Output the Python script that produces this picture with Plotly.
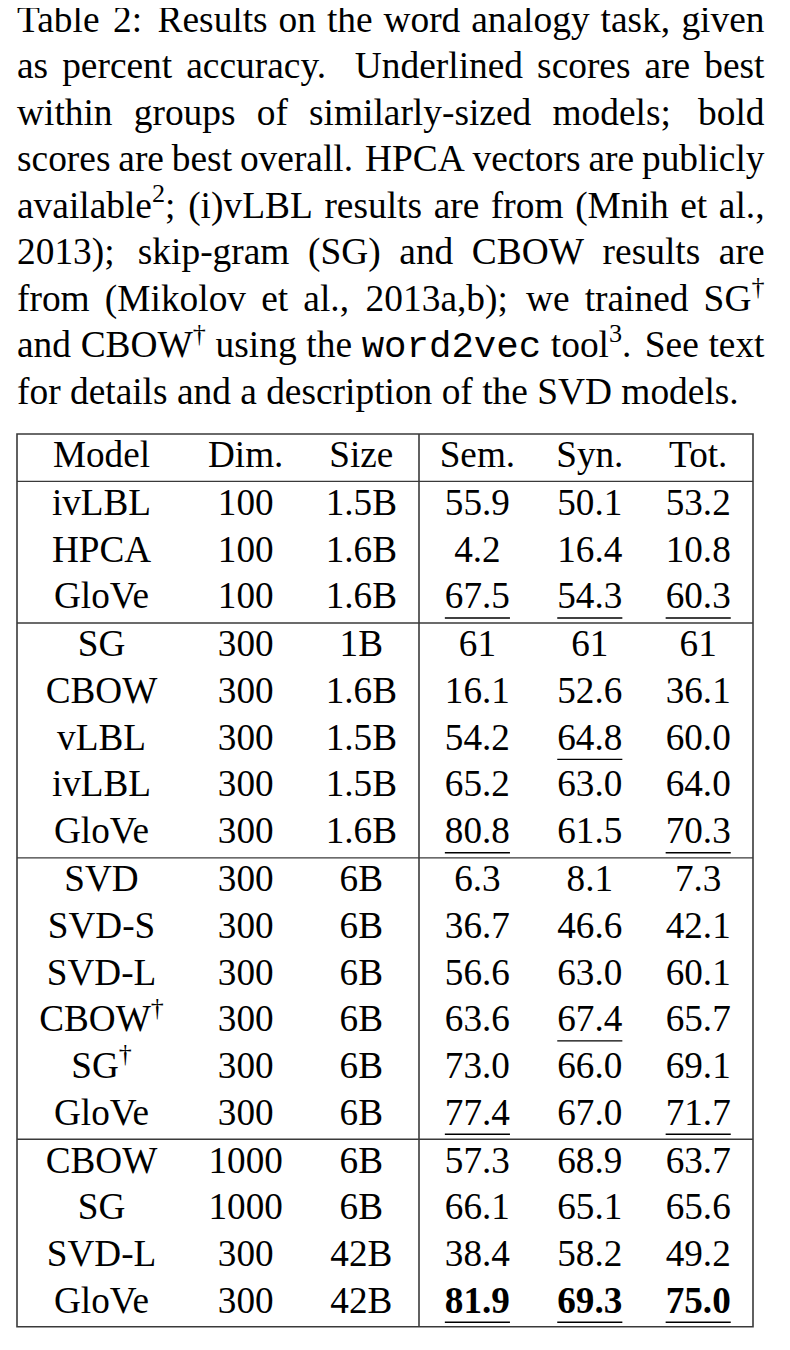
import re
import plotly.graph_objects as go

# ---------------- data ----------------
header = ["Model", "Dim.", "Size", "Sem.", "Syn.", "Tot."]
models = ["ivLBL", "HPCA", "GloVe",
          "SG", "CBOW", "vLBL", "ivLBL", "GloVe",
          "SVD", "SVD-S", "SVD-L", "CBOW<sup>†</sup>", "SG<sup>†</sup>", "GloVe",
          "CBOW", "SG", "SVD-L", "GloVe"]
dims = ["100", "100", "100",
        "300", "300", "300", "300", "300",
        "300", "300", "300", "300", "300", "300",
        "1000", "1000", "300", "300"]
sizes = ["1.5B", "1.6B", "1.6B",
         "1B", "1.6B", "1.5B", "1.5B", "1.6B",
         "6B", "6B", "6B", "6B", "6B", "6B",
         "6B", "6B", "42B", "42B"]
sem = ["55.9", "4.2", "67.5",
       "61", "16.1", "54.2", "65.2", "80.8",
       "6.3", "36.7", "56.6", "63.6", "73.0", "77.4",
       "57.3", "66.1", "38.4", "81.9"]
syn = ["50.1", "16.4", "54.3",
       "61", "52.6", "64.8", "63.0", "61.5",
       "8.1", "46.6", "63.0", "67.4", "66.0", "67.0",
       "68.9", "65.1", "58.2", "69.3"]
tot = ["53.2", "10.8", "60.3",
       "61", "36.1", "60.0", "64.0", "70.3",
       "7.3", "42.1", "60.1", "65.7", "69.1", "71.7",
       "63.7", "65.6", "49.2", "75.0"]
groups = [0, 0, 0,
          1, 1, 1, 1, 1,
          2, 2, 2, 2, 2, 2,
          3, 3, 3, 3]

caption_lines = [
    ["Table", "2:", "Results", "on", "the", "word", "analogy", "task,", "given"],
    ["as", "percent", "accuracy.", "Underlined", "scores", "are", "best"],
    ["within", "groups", "of", "similarly-sized", "models;", "bold"],
    ["scores", "are", "best", "overall.", "HPCA", "vectors", "are", "publicly"],
    ["available<sup>2</sup>;", "(i)vLBL", "results", "are", "from", "(Mnih", "et", "al.,"],
    ["2013);", "skip-gram", "(SG)", "and", "CBOW", "results", "are"],
    ["from", "(Mikolov", "et", "al.,", "2013a,b);", "we", "trained", "SG<sup>†</sup>"],
    ["and", "CBOW<sup>†</sup>", "using", "the", "word2vec", "tool<sup>3</sup>.", "See", "text"],
]
caption_last_line = "for details and a description of the SVD models."
mono_words = ["word2vec"]

# ---------------- layout constants ----------------
W, H = 790, 1350
PAGE_OFF = 8  # default page margin around the plot div
FS_CAP = 37.4
FS = 37.2
SERIF = "Liberation Serif"
MONO = "Liberation Mono"
CAP_LEFT, CAP_RIGHT = 17.0, 764.5
CAP_BASE0, CAP_PITCH = 32.0, 46.5
col_x = [101.5, 245.7, 361.3, 477.4, 589.8, 698.2]
TAB_LEFT, TAB_RIGHT, TAB_VLINE = 17.0, 753.0, 419.0
HEAD_BASE = 466.7
ROW_BASE0, ROW_PITCH, GROUP_GAP = 515.0, 46.67, 1.44
RULE_BELOW = 14.7
TOP_ABOVE = 32.7
BOTTOM_BELOW = 14.0
UL_BELOW = 9.6
LINE_COLOR = "#3a3a3a"

TIMES = {
    ' ': 250, '!': 333, '"': 408, '(': 333, ')': 333, ',': 250, '-': 333, '.': 250,
    ':': 278, ';': 278, '†': 500,
    'A': 722, 'B': 667, 'C': 667, 'D': 722, 'E': 611, 'F': 556, 'G': 722, 'H': 722,
    'I': 333, 'J': 389, 'K': 722, 'L': 611, 'M': 889, 'N': 722, 'O': 722, 'P': 556,
    'Q': 722, 'R': 667, 'S': 556, 'T': 611, 'U': 722, 'V': 722, 'W': 944, 'X': 722,
    'Y': 722, 'Z': 611,
    'a': 444, 'b': 500, 'c': 444, 'd': 500, 'e': 444, 'f': 333, 'g': 500, 'h': 500,
    'i': 278, 'j': 278, 'k': 500, 'l': 278, 'm': 778, 'n': 500, 'o': 500, 'p': 500,
    'q': 500, 'r': 333, 's': 389, 't': 278, 'u': 500, 'v': 500, 'w': 722, 'x': 500,
    'y': 500, 'z': 444,
}


def plain(s):
    return re.sub(r"<[^>]+>", "", s)


def text_width(s, fs, mono=False):
    total, scale = 0.0, 1.0
    for tok in re.split(r"(<[^>]+>)", s):
        if tok == "<sup>":
            scale = 0.7
            continue
        if tok == "</sup>":
            scale = 1.0
            continue
        if tok.startswith("<"):
            continue
        for ch in tok:
            w = 600 if mono else TIMES.get(ch, 500)
            total += w * scale
    return total * fs / 1000.0


def space_factor(word):
    p = plain(word)
    chars = [c for c in p if c not in ")]'\"†"]
    if not chars:
        return 1000
    c = chars[-1]
    prev = chars[-2] if len(chars) > 1 else ""
    if c in ".?!":
        return 999 if prev.isupper() else 3000
    if c == ":":
        return 2000
    if c == ";":
        return 1500
    if c == ",":
        return 1250
    if c.isupper():
        return 999
    return 1000


SP, ST, SH, EX = 0.25 * FS_CAP, 0.12 * FS_CAP, 0.08 * FS_CAP, 0.08 * FS_CAP
CAP_DY = 0.25 * FS_CAP   # baseline offset of plotly 'middle' text
TAB_DY = 0.25 * FS

cap_serif = dict(x=[], y=[], text=[], pos=[])
cap_mono = dict(x=[], y=[], text=[], pos=[])

for k, words in enumerate(caption_lines):
    base = CAP_BASE0 + k * CAP_PITCH
    widths = [text_width(w, FS_CAP, mono=(w in mono_words)) for w in words]
    nat, stre, shr = [], [], []
    for w in words[:-1]:
        f = space_factor(w)
        nat.append(SP + (EX if f >= 2000 else 0.0))
        stre.append(ST * f / 1000.0)
        shr.append(SH * 1000.0 / f)
    extra = (CAP_RIGHT - CAP_LEFT) - (sum(widths) + sum(nat))
    if extra >= 0:
        r = extra / sum(stre)
        gaps = [a + r * s for a, s in zip(nat, stre)]
    else:
        r = extra / sum(shr)
        gaps = [a + r * s for a, s in zip(nat, shr)]
    x = CAP_LEFT
    for i, w in enumerate(words):
        tgt = cap_mono if w in mono_words else cap_serif
        if i == len(words) - 1:
            tgt["x"].append(CAP_RIGHT)
            tgt["pos"].append("middle left")
        else:
            tgt["x"].append(x)
            tgt["pos"].append("middle right")
            x += widths[i] + gaps[i]
        tgt["y"].append(base - CAP_DY)
        tgt["text"].append(w)

last_base = CAP_BASE0 + len(caption_lines) * CAP_PITCH
cap_serif["x"].append(CAP_LEFT)
cap_serif["y"].append(last_base - CAP_DY)
cap_serif["text"].append(caption_last_line)
cap_serif["pos"].append("middle right")

fig = go.Figure()

fig.add_trace(go.Scatter(
    x=cap_serif["x"], y=cap_serif["y"], text=cap_serif["text"],
    textposition=cap_serif["pos"], mode="text", hoverinfo="skip",
    textfont=dict(family=SERIF, size=FS_CAP, color="black"), cliponaxis=False))
fig.add_trace(go.Scatter(
    x=cap_mono["x"], y=cap_mono["y"], text=cap_mono["text"],
    textposition=cap_mono["pos"], mode="text", hoverinfo="skip",
    textfont=dict(family=MONO, size=FS_CAP, color="black"), cliponaxis=False))

# ---------------- table ----------------
n = len(models)
row_base = [ROW_BASE0 + i * ROW_PITCH + groups[i] * GROUP_GAP for i in range(n)]
columns = [models, dims, sizes, sem, syn, tot]
score_cols = {3: sem, 4: syn, 5: tot}

# best within group (underline) / best overall (bold)
underline = {j: set() for j in score_cols}
bold = {j: set() for j in score_cols}
for j, vals in score_cols.items():
    nums = [float(v) for v in vals]
    for g in sorted(set(groups)):
        idx = [i for i in range(n) if groups[i] == g]
        m = max(nums[i] for i in idx)
        underline[j].update(i for i in idx if nums[i] == m)
    mall = max(nums)
    bold[j].update(i for i in range(n) if nums[i] == mall)

fig.add_trace(go.Scatter(
    x=col_x, y=[HEAD_BASE - TAB_DY] * len(header), text=header,
    textposition="middle center", mode="text", hoverinfo="skip",
    textfont=dict(family=SERIF, size=FS, color="black"), cliponaxis=False))

shapes = []
for j, vals in enumerate(columns):
    texts = []
    for i, v in enumerate(vals):
        t = v
        if j in bold and i in bold[j]:
            t = "<b>" + v + "</b>"
        texts.append(t)
        if j in underline and i in underline[j]:
            w = text_width(v, FS)
            shapes.append(dict(type="line", xref="x", yref="y",
                               x0=col_x[j] - w / 2, x1=col_x[j] + w / 2,
                               y0=row_base[i] + UL_BELOW, y1=row_base[i] + UL_BELOW,
                               line=dict(color="black", width=1.4)))
    fig.add_trace(go.Scatter(
        x=[col_x[j]] * n, y=[b - TAB_DY for b in row_base], text=texts,
        textposition="middle center", mode="text", hoverinfo="skip",
        textfont=dict(family=SERIF, size=FS, color="black"), cliponaxis=False))

top = HEAD_BASE - TOP_ABOVE
bottom = row_base[-1] + BOTTOM_BELOW
rules = [HEAD_BASE + RULE_BELOW]
for i in range(n - 1):
    if groups[i + 1] != groups[i]:
        rules.append(row_base[i] + RULE_BELOW)

shapes.append(dict(type="rect", xref="x", yref="y", x0=TAB_LEFT, x1=TAB_RIGHT,
                   y0=top, y1=bottom, line=dict(color=LINE_COLOR, width=1.6)))
shapes.append(dict(type="line", xref="x", yref="y", x0=TAB_VLINE, x1=TAB_VLINE,
                   y0=top, y1=bottom, line=dict(color=LINE_COLOR, width=1.6)))
for yr in rules:
    shapes.append(dict(type="line", xref="x", yref="y", x0=TAB_LEFT, x1=TAB_RIGHT,
                       y0=yr, y1=yr, line=dict(color=LINE_COLOR, width=1.4)))

# axes in screen pixels (offset by the page margin so coordinates match the picture)
fig.update_layout(
    width=W, height=H, margin=dict(l=0, r=0, t=0, b=0),
    paper_bgcolor="white", plot_bgcolor="white", showlegend=False,
    xaxis=dict(range=[PAGE_OFF, PAGE_OFF + W], visible=False, fixedrange=True),
    yaxis=dict(range=[PAGE_OFF + H, PAGE_OFF], visible=False, fixedrange=True),
    shapes=shapes,
)

fig.write_html("out.html")
